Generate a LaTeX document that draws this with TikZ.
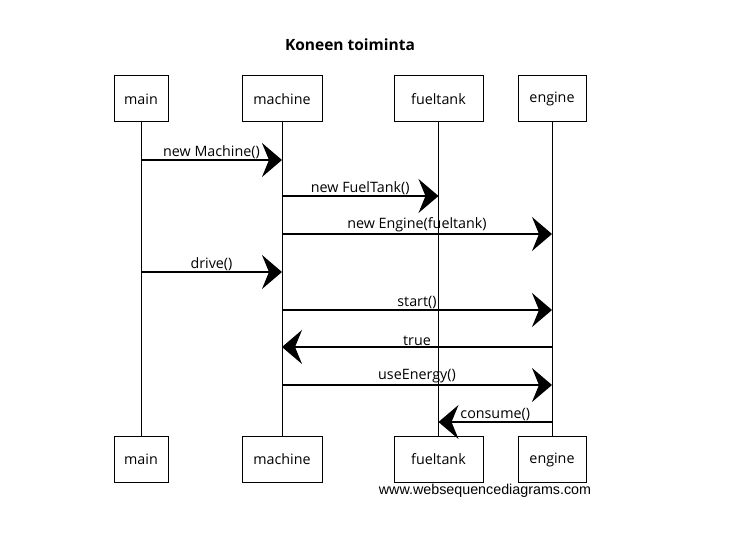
\documentclass[tikz,border=0pt]{standalone}
\usepackage{fontspec}
\setmainfont{Open Sans}
\newfontfamily\wmfont{Liberation Sans}
\usetikzlibrary{arrows.meta}
\begin{document}
\begin{tikzpicture}[x=1pt,y=-1pt,
  actor/.style={draw, line width=1pt, minimum height=46pt, inner sep=0pt, font=\fontsize{14.3}{16}\selectfont},
  life/.style={line width=0.9pt},
  msg/.style={line width=1.2pt, -{Stealth[length=20pt,width=34pt,inset=7pt]}},
  lbl/.style={midway, above=0pt, inner sep=1pt, font=\fontsize{14.3}{16}\selectfont}]
\useasboundingbox (0,0) rectangle (729,540);
\node[font=\fontsize{15.5}{17}\selectfont\bfseries] (title) at (350,45) {Koneen toiminta};
% top actors
\node[actor, minimum width=54pt] (mainT) at (141,99) {main};
\node[actor, minimum width=80pt] (machineT) at (282,99) {machine};
\node[actor, minimum width=89pt] (fuelT) at (438.5,99) {fueltank};
\node[actor, minimum width=68pt] (engineT) at (552,99) {engine};
% bottom actors
\node[actor, minimum width=54pt] (mainB) at (141,459.5) {main};
\node[actor, minimum width=80pt] (machineB) at (282,459.5) {machine};
\node[actor, minimum width=89pt] (fuelB) at (438.5,459.5) {fueltank};
\node[actor, minimum width=68pt] (engineB) at (552,459.5) {engine};
% lifelines
\draw[life] (mainT) -- (mainB);
\draw[life] (machineT) -- (machineB);
\draw[life] (fuelT) -- (fuelB);
\draw[life] (engineT) -- (engineB);
% messages
\draw[msg] (mainT |- 0,160) -- node[lbl] {new Machine()} (machineT |- 0,160);
\draw[msg] (machineT |- 0,196) -- node[lbl] {new FuelTank()} (fuelT |- 0,196);
\draw[msg] (machineT |- 0,234) -- node[lbl] {new Engine(fueltank)} (engineT |- 0,234);
\draw[msg] (mainT |- 0,272) -- node[lbl] {drive()} (machineT |- 0,272);
\draw[msg] (machineT |- 0,310) -- node[lbl] {start()} (engineT |- 0,310);
\draw[msg] (engineT |- 0,347) -- node[lbl] {true} (machineT |- 0,347);
\draw[msg] (machineT |- 0,385) -- node[lbl] {useEnergy()} (engineT |- 0,385);
\draw[msg] (engineT |- 0,422) -- node[lbl] {consume()} (fuelT |- 0,422);
\node[font=\wmfont\fontsize{14.3}{16}\selectfont] (wm) at (485,491) {www.websequencediagrams.com};
\end{tikzpicture}
\end{document}
